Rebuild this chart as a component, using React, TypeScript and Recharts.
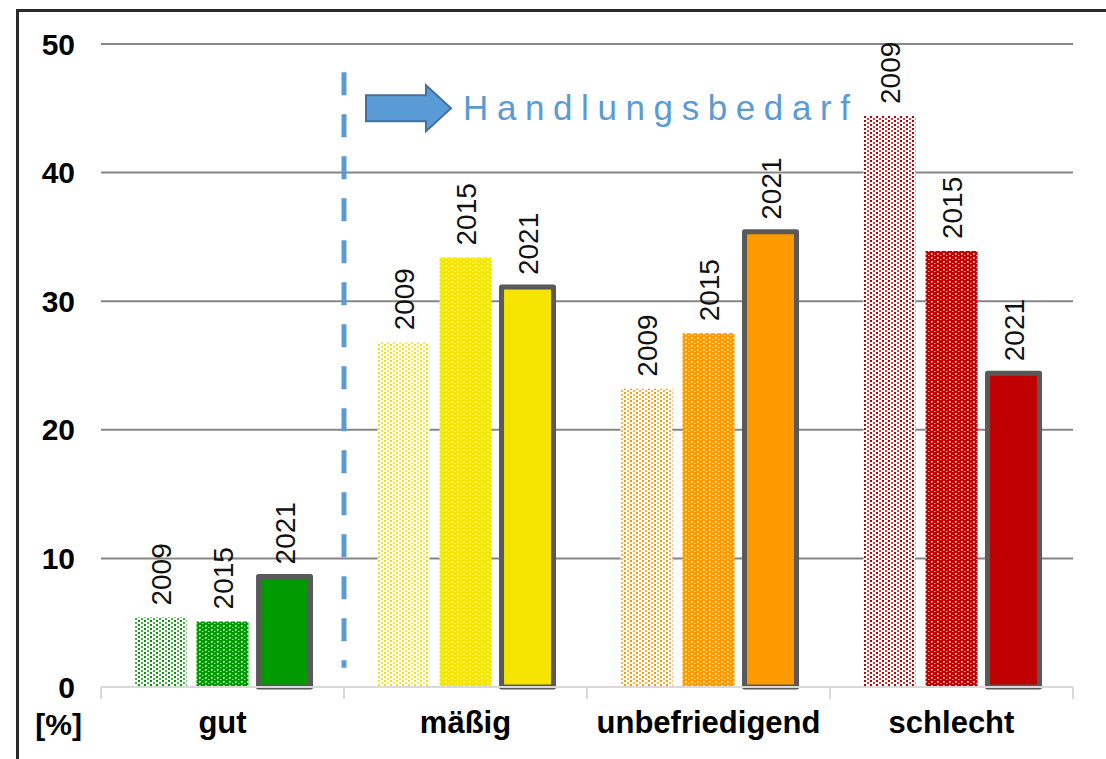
import { BarChart, Bar, XAxis, YAxis, CartesianGrid, Cell, LabelList, ReferenceLine } from "recharts";

const categories = ["gut", "mäßig", "unbefriedigend", "schlecht"];
const values2009 = [5.4, 26.8, 23.2, 44.4];
const values2015 = [5.1, 33.4, 27.5, 33.9];
const values2021 = [8.6, 31.1, 35.4, 24.4];
const years = ["2009", "2015", "2021"];
const yTicks = [0, 10, 20, 30, 40, 50];
const gridValues = [10, 20, 30, 40, 50];
const colors = ["#009900", "#f5e400", "#ff9900", "#c00000"];
const colorKeys = ["green", "yellow", "orange", "red"];

const data = categories.map((name, i) => ({
  name,
  y2009: values2009[i],
  y2015: values2015[i],
  y2021: values2021[i],
}));

const FONT = "'Liberation Sans', Arial, sans-serif";

const yearLabel = (year: string) => (props: any) => {
  const cx = Number(props.x) + Number(props.width) / 2 + 10;
  const top = Number(props.y) - 12;
  return (
    <text
      x={cx}
      y={top}
      transform={`rotate(-90 ${cx} ${top})`}
      fontSize={28}
      fontFamily={FONT}
      fill="#111"
    >
      {year}
    </text>
  );
};

const CategoryTick = (props: any) => {
  const { x, y, payload, index } = props;
  const half = payload && payload.offset ? payload.offset : 121.5;
  return (
    <g>
      <line x1={x - half} y1={y} x2={x - half} y2={y + 12} stroke="#d9d9d9" strokeWidth={2} />
      {index === categories.length - 1 && (
        <line x1={x + half} y1={y} x2={x + half} y2={y + 12} stroke="#d9d9d9" strokeWidth={2} />
      )}
      <text x={x} y={y + 46} textAnchor="middle" fontSize={31} fontWeight="bold" fontFamily={FONT} fill="#000">
        {payload.value}
      </text>
    </g>
  );
};

const HandlungLabel = (props: any) => {
  const vb = props.viewBox || { x: 342, y: 70 };
  const x0 = vb.x + 22;
  const yc = vb.y + 36;
  return (
    <g>
      <path
        d={`M${x0},${yc - 13} H${x0 + 60} V${yc - 23} L${x0 + 85},${yc} L${x0 + 60},${yc + 23} V${yc + 13} H${x0} Z`}
        fill="#5b9bd5"
        stroke="#41719c"
        strokeWidth={2}
      />
      <text x={x0 + 97} y={yc + 12} fontSize={35} fontFamily={FONT} fill="#5b9bd5" letterSpacing={8.6}>
        Handlungsbedarf
      </text>
    </g>
  );
};

const PercentLabel = () => {
  return (
    <text x={82} y={735} textAnchor="end" fontSize={30} fontWeight="bold" fontFamily={FONT} fill="#000">
      [%]
    </text>
  );
};

export default function App() {
  return (
    <div style={{ position: "absolute", left: 0, top: 0, width: 1106, height: 759, background: "#fff" }}>
      <div
        style={{
          position: "absolute",
          left: 16,
          top: 9,
          right: 0,
          bottom: 0,
          borderTop: "3px solid #2a2a2a",
          borderLeft: "3px solid #2a2a2a",
        }}
      />
      <div style={{ position: "absolute", left: 0, top: 0 }}>
        <BarChart
          width={1106}
          height={759}
          data={data}
          margin={{ top: 44, right: 33, left: 0, bottom: 0 }}
          barCategoryGap="13.8%"
          barGap={10}
        >
          <defs>
            {colors.map((c, i) => (
              <pattern key={"p09" + i} id={`p2009-${colorKeys[i]}`} width={6} height={4} patternUnits="userSpaceOnUse">
                <rect width={6} height={4} fill="#fff" />
                <rect x={0} y={0} width={2} height={2} fill={c} />
                <rect x={3} y={2} width={2} height={2} fill={c} opacity={0.75} />
              </pattern>
            ))}
            {colors.map((c, i) => (
              <pattern key={"p15" + i} id={`p2015-${colorKeys[i]}`} width={6} height={4} patternUnits="userSpaceOnUse">
                <rect width={6} height={4} fill={c} />
                <rect x={1} y={1} width={1.6} height={1.6} fill="#fff" />
                <rect x={4} y={3} width={1.4} height={1} fill="#fff" opacity={0.75} />
              </pattern>
            ))}
          </defs>
          <CartesianGrid vertical={false} horizontalValues={gridValues} stroke="#868686" strokeWidth={2} />
          <XAxis
            dataKey="name"
            height={72}
            interval={0}
            tickSize={0}
            tickMargin={0}
            axisLine={{ stroke: "#d9d9d9", strokeWidth: 2 }}
            tickLine={false}
            tick={<CategoryTick />}
          />
          <YAxis
            domain={[0, 50]}
            ticks={yTicks}
            width={101}
            axisLine={false}
            tickLine={false}
            tickSize={0}
            tickMargin={26}
            tick={{ fontSize: 30, fontWeight: "bold", fill: "#000", fontFamily: FONT }}
            label={<PercentLabel />}
          />
          <ReferenceLine
            segment={[
              { x: "gut", y: 47.8 },
              { x: "gut", y: 1.5 },
            ]}
            position="end"
            stroke="#5b9bd5"
            strokeWidth={5}
            strokeDasharray="23 19"
            ifOverflow="visible"
            label={<HandlungLabel />}
          />
          <Bar dataKey="y2009" isAnimationActive={false}>
            {data.map((d, i) => (
              <Cell key={d.name} fill={`url(#p2009-${colorKeys[i]})`} />
            ))}
            <LabelList dataKey="y2009" content={yearLabel(years[0])} />
          </Bar>
          <Bar dataKey="y2015" isAnimationActive={false}>
            {data.map((d, i) => (
              <Cell key={d.name} fill={`url(#p2015-${colorKeys[i]})`} />
            ))}
            <LabelList dataKey="y2015" content={yearLabel(years[1])} />
          </Bar>
          <Bar dataKey="y2021" isAnimationActive={false} stroke="#595959" strokeWidth={5} strokeLinejoin="round">
            {data.map((d, i) => (
              <Cell key={d.name} fill={colors[i]} />
            ))}
            <LabelList dataKey="y2021" content={yearLabel(years[2])} />
          </Bar>
        </BarChart>
      </div>
    </div>
  );
}
